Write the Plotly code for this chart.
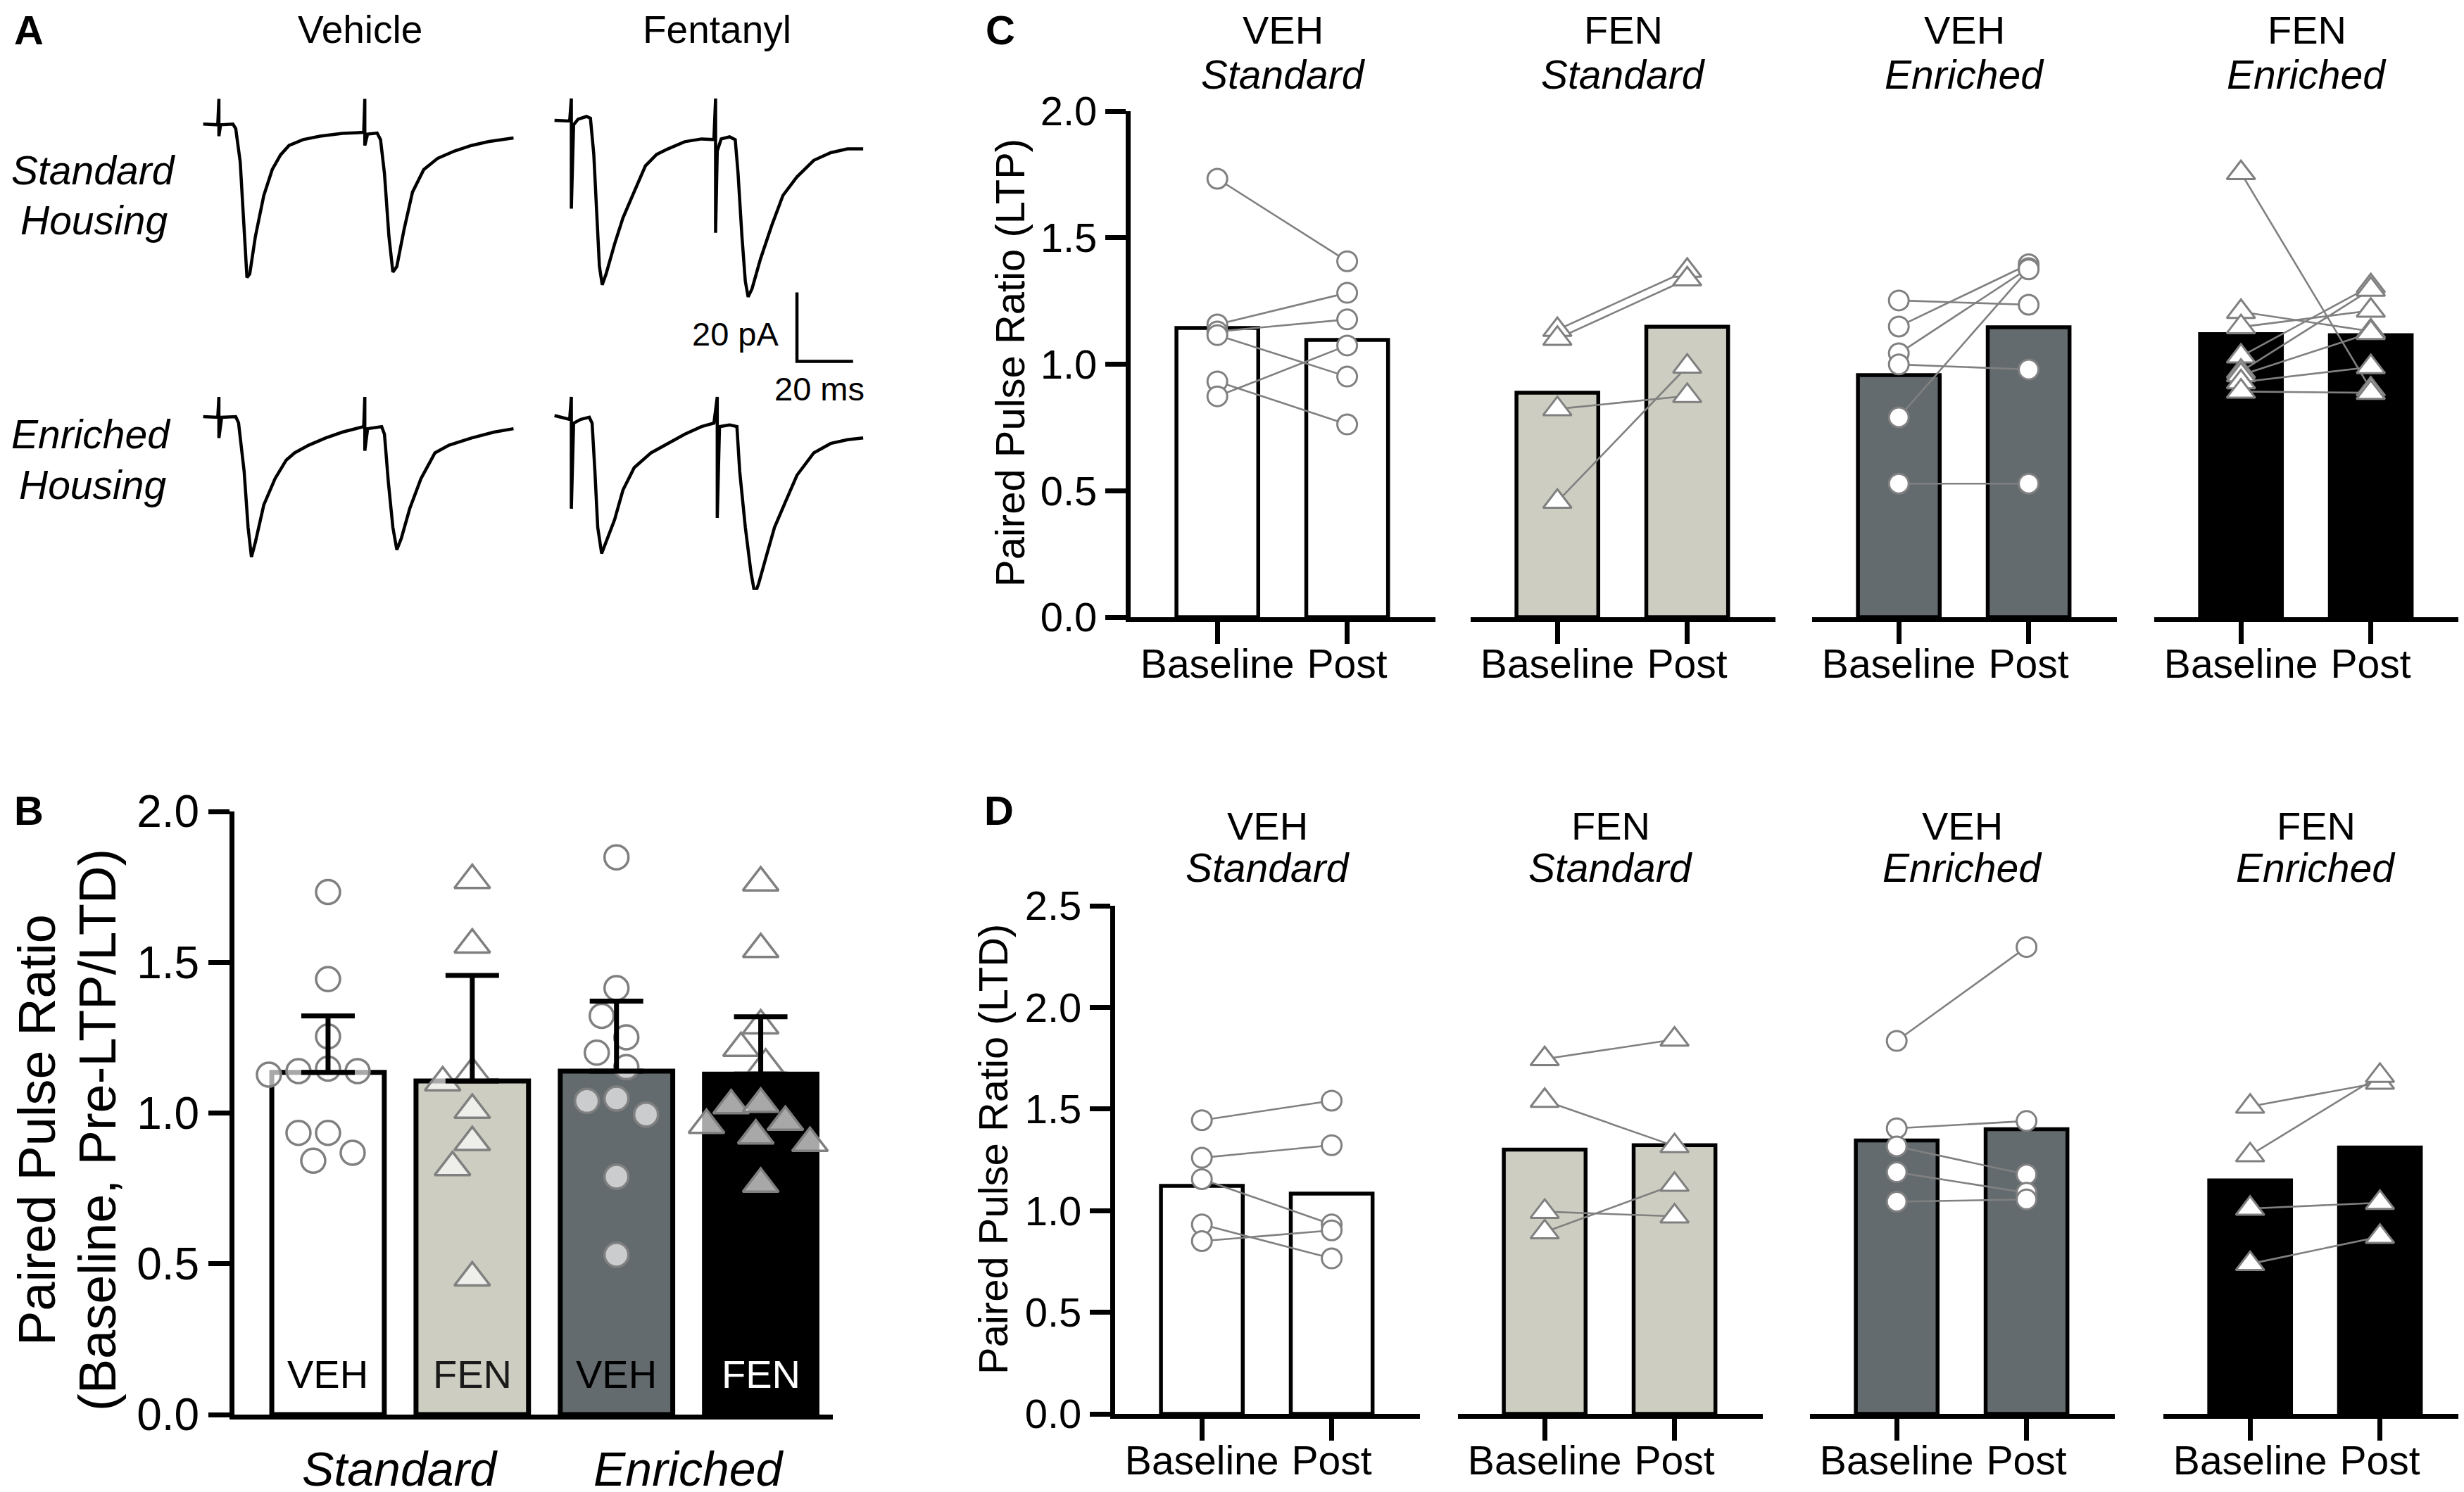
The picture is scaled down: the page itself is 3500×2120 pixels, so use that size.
import plotly.graph_objects as go

W, H = 3500, 2120
FONT = "Liberation Sans, Arial, Helvetica, sans-serif"
GRAY = "#808080"

# ---------------- Panel A : example EPSC traces (time in ms, current in pA) ----------------
veh_std_t = [0, 5.2, 5.6, 5.6, 6.2, 10.6, 11.6, 13.2, 14.6, 15.6, 16.6, 18.6, 21.6, 24.6, 27.6, 30.6, 35.6,
             41.6, 49.6, 57.2, 57.6, 57.6, 58.6, 62.0, 63.2, 64.6, 66.2, 67.6, 69.0, 71.6, 74.6, 78.6, 83.6,
             89.6, 95.6, 101.6, 110.6]
veh_std_i = [0, -0.2, 7.3, -3.5, -0.2, 0, -1.3, -11.0, -30.5, -44.5, -43.4, -32.6, -20.7, -13.2, -8.9, -6.2,
             -4.5, -3.5, -2.7, -2.4, 7.3, -6.2, -2.9, -2.6, -4.5, -14.3, -32.6, -42.9, -41.3, -30.5, -19.7,
             -13.2, -9.9, -7.8, -6.2, -5.1, -4.0]
fen_std_t = [0, 5.4, 6.0, 6.0, 6.8, 8.4, 11.4, 12.8, 14.0, 15.0, 16.0, 17.0, 18.4, 21.4, 24.4, 28.4, 32.4,
             36.4, 40.4, 46.4, 52.4, 56.8, 57.4, 57.4, 58.0, 59.4, 62.4, 64.4, 65.4, 66.8, 68.0, 69.0, 70.4,
             73.4, 77.4, 81.4, 86.4, 92.4, 98.4, 104.4, 110.0]
fen_std_i = [0, -0.2, 6.3, -25.6, -1.3, 0.3, 1.1, 0.6, -9.9, -26.1, -42.3, -47.7, -44.5, -35.9, -28.3, -20.7,
             -13.2, -9.9, -8.3, -6.2, -5.4, -5.6, 6.3, -32.6, -8.9, -5.4, -4.8, -5.6, -15.3, -33.7, -46.7,
             -51.2, -48.8, -40.2, -30.5, -21.8, -16.4, -11.6, -9.4, -8.3, -8.3]
veh_enr_t = [0, 5.2, 5.6, 5.6, 6.6, 11.6, 12.6, 14.6, 16.0, 17.2, 18.6, 21.6, 25.6, 29.6, 32.6, 37.6, 43.6,
             49.6, 57.2, 57.6, 57.6, 58.6, 63.6, 64.6, 66.0, 67.6, 69.0, 70.6, 73.6, 77.6, 82.6, 87.6, 95.6,
             103.6, 110.6]
veh_enr_i = [0, -0.2, 5.7, -6.2, -0.2, 0, -1.8, -15.9, -32.1, -40.7, -36.4, -25.6, -18.0, -12.6, -10.5, -8.3,
             -6.2, -4.5, -2.9, 5.7, -9.9, -3.5, -2.9, -5.1, -19.1, -32.1, -38.6, -35.3, -26.7, -18.0, -10.5,
             -8.3, -6.2, -4.5, -3.5]
fen_enr_t = [0, 5.4, 6.0, 6.0, 6.8, 9.4, 12.4, 13.4, 14.4, 15.4, 16.8, 18.4, 21.4, 24.4, 28.4, 34.4, 40.4,
             46.4, 52.4, 56.8, 58.0, 58.0, 58.8, 62.4, 65.0, 66.0, 68.0, 70.0, 71.4, 72.8, 75.4, 78.4, 82.4,
             86.4, 92.4, 98.4, 104.4, 110.0]
fen_enr_i = [0, -1.1, 5.4, -27.0, -2.2, -1.1, -0.5, -2.2, -16.2, -32.4, -40.0, -36.7, -30.2, -21.6, -15.1,
             -10.8, -8.1, -5.4, -3.2, -2.2, 5.4, -29.7, -3.2, -2.7, -3.2, -16.2, -32.4, -45.4, -51.8, -48.6,
             -41.0, -32.4, -24.8, -17.3, -10.8, -8.1, -7.0, -6.5]
scale_ms = 20
scale_pA = 20

# ---------------- Panel B ----------------
b_groups = ["VEH", "FEN", "VEH", "FEN"]
b_housing = ["Standard", "Enriched"]
b_means = [1.135, 1.106, 1.139, 1.129]
b_err_up = [0.187, 0.350, 0.232, 0.190]
b_veh_std = [1.733, 1.444, 1.254, 1.139, 1.139, 1.127, 1.147, 0.934, 0.934, 0.868, 0.842]
b_fen_std = [1.772, 1.558, 1.101, 1.132, 1.010, 0.903, 0.820, 0.454]
b_veh_enr = [1.848, 1.414, 1.322, 1.251, 1.200, 1.152, 1.048, 1.040, 0.995, 0.789, 0.530]
b_fen_enr = [1.764, 1.543, 1.290, 1.215, 1.160, 1.025, 1.030, 0.970, 0.960, 0.925, 0.900, 0.765]

# ---------------- Panels C (LTP) and D (LTD) ----------------
pair_ticks = ["Baseline", "Post"]
grp_drug = ["VEH", "FEN", "VEH", "FEN"]
grp_house = ["Standard", "Standard", "Enriched", "Enriched"]

c_bar_base = [1.143, 0.887, 0.957, 1.119]
c_bar_post = [1.096, 1.148, 1.146, 1.115]
c_veh_std_base = [1.733, 1.157, 1.129, 1.115, 0.932, 0.873]
c_veh_std_post = [1.407, 1.282, 1.177, 0.951, 0.762, 1.074]
c_fen_std_base = [1.136, 1.101, 0.823, 0.457]
c_fen_std_post = [1.370, 1.336, 0.875, 0.991]
c_veh_enr_base = [1.252, 1.149, 1.043, 0.999, 0.790, 0.528]
c_veh_enr_post = [1.235, 1.395, 1.380, 0.979, 1.375, 0.528]
c_fen_enr_base = [1.756, 1.207, 1.147, 1.031, 0.971, 0.957, 0.929, 0.892]
c_fen_enr_post = [0.901, 1.130, 1.212, 1.309, 1.295, 1.124, 0.989, 0.887]

d_bar_base = [1.122, 1.300, 1.345, 1.149]
d_bar_post = [1.084, 1.322, 1.401, 1.311]
d_veh_std_base = [1.445, 1.260, 1.155, 0.932, 0.850]
d_veh_std_post = [1.541, 1.322, 0.932, 0.765, 0.903]
d_fen_std_base = [1.746, 1.541, 0.995, 0.894]
d_fen_std_post = [1.842, 1.318, 0.972, 1.128]
d_veh_enr_base = [1.835, 1.405, 1.316, 1.189, 1.044]
d_veh_enr_post = [2.297, 1.441, 1.178, 1.088, 1.055]
d_fen_enr_base = [1.512, 1.273, 1.010, 0.738]
d_fen_enr_post = [1.630, 1.664, 1.039, 0.872]

# ---------------- styles ----------------
BAR_COLORS = ["#ffffff", "#cdcec1", "#636b6f", "#000000"]
SYMBOLS = ["circle", "triangle-up", "circle", "triangle-up"]


def px(x):
    return x / W


def py(y):
    return 1 - y / H


def beeswarm(vals, xscale, yscale, d):
    order = sorted(range(len(vals)), key=lambda k: -vals[k])
    placed = []
    offs = [0.0] * len(vals)
    step = d / 6.0
    cands = [0.0]
    for k in range(1, 80):
        cands += [-k * step, k * step]
    for k in order:
        yp = vals[k] * yscale
        chosen = 0.0
        for c in cands:
            if all((c - a) ** 2 + (yp - b) ** 2 >= d * d for a, b in placed):
                chosen = c
                break
        placed.append((chosen, yp))
        offs[k] = chosen / xscale
    return offs


fig = go.Figure()
layout = dict(width=W, height=H, margin=dict(l=0, r=0, t=0, b=0, pad=0, autoexpand=False),
              paper_bgcolor="white", plot_bgcolor="rgba(0,0,0,0)", showlegend=False,
              font=dict(family=FONT, color="black"))
ann = []
TOP = 34

# ---------- Panel A ----------
layout["xaxis"] = dict(domain=[0, 1250 / W], range=[-70.4, 243.2], visible=False, anchor="y", automargin=False)
layout["yaxis"] = dict(domain=[py(830), 1], range=[-135.0, 34.34], visible=False, anchor="x", automargin=False)
col_off = [0, 125.2]
row_off = [0, -84.8]
traces_a = [(veh_std_t, veh_std_i, 0, 0, 0), (fen_std_t, fen_std_i, 1, 0, 1.1),
            (veh_enr_t, veh_enr_i, 0, 1, 0), (fen_enr_t, fen_enr_i, 1, 1, 0.3)]
for tt, ii, c, r, extra in traces_a:
    fig.add_trace(go.Scatter(x=[t + col_off[c] for t in tt], y=[v + row_off[r] + extra for v in ii],
                             mode="lines", line=dict(color="black", width=4.5), xaxis="x", yaxis="y",
                             hoverinfo="skip"))
sb_x, sb_y = 211.6, -48.8
fig.add_trace(go.Scatter(x=[sb_x, sb_x, sb_x + scale_ms], y=[sb_y, sb_y - scale_pA, sb_y - scale_pA],
                         mode="lines", line=dict(color="black", width=4.5), xaxis="x", yaxis="y"))
ann.append(dict(x=sb_x - 6, y=sb_y - scale_pA / 2 - 2, xref="x", yref="y", text=f"{scale_pA} pA",
                showarrow=False, xanchor="right", yanchor="middle", font=dict(size=47)))
ann.append(dict(x=sb_x + scale_ms / 2 - 2, y=sb_y - scale_pA - 8, xref="x", yref="y", text=f"{scale_ms} ms",
                showarrow=False, xanchor="center", yanchor="middle", font=dict(size=47)))
for txt, x in [("Vehicle", 503), ("Fentanyl", 1010)]:
    ann.append(dict(x=px(x), y=py(TOP), xref="paper", yref="paper", text=txt, showarrow=False,
                    xanchor="center", yanchor="middle", font=dict(size=55)))
for txt, x, y in [("Standard", 125, 234), ("Housing", 125, 305), ("Enriched", 121, 609), ("Housing", 123, 681)]:
    ann.append(dict(x=px(x), y=py(y), xref="paper", yref="paper", text=f"<i>{txt}</i>", showarrow=False,
                    xanchor="center", yanchor="middle", font=dict(size=57)))

# ---------- Panel B ----------
layout["xaxis2"] = dict(domain=[px(325), px(1175)], range=[-0.649, 3.5], anchor="y2", showline=True,
                        linecolor="black", linewidth=7, ticks="", showticklabels=False, showgrid=False,
                        zeroline=False, automargin=False)
layout["yaxis2"] = dict(domain=[py(2002), py(1145)], range=[0, 2], anchor="x2", showline=True,
                        linecolor="black", linewidth=7, ticks="outside", ticklen=30, tickwidth=7,
                        tickcolor="black", tickvals=[0, 0.5, 1, 1.5, 2],
                        ticktext=["0.0", "0.5", "1.0", "1.5", "2.0"], tickfont=dict(size=64),
                        showgrid=False, zeroline=False, automargin=False)
fig.add_trace(go.Bar(x=[0, 1, 2, 3], y=b_means, width=0.78, xaxis="x2", yaxis="y2",
                     marker=dict(color=BAR_COLORS, line=dict(color="black", width=7))))
b_sets = [b_veh_std, b_fen_std, b_veh_enr, b_fen_enr]
xs_b = 850 / 4.149
ys_b = 857 / 2.0
for g, vals in enumerate(b_sets):
    offs = beeswarm(vals, xs_b, ys_b, 42)
    tri = SYMBOLS[g] == "triangle-up"
    fig.add_trace(go.Scatter(x=[g + o for o in offs], y=vals, mode="markers", xaxis="x2", yaxis="y2",
                             marker=dict(symbol=SYMBOLS[g], size=44 if tri else 34,
                                         color="rgba(255,255,255,0.66)",
                                         line=dict(color=GRAY, width=3.5))))
fig.add_trace(go.Scatter(x=[0, 1, 2, 3], y=b_means, mode="markers", xaxis="x2", yaxis="y2",
                         marker=dict(size=1, color="rgba(0,0,0,0)"),
                         error_y=dict(type="data", symmetric=False, array=b_err_up, arrayminus=[0, 0, 0, 0],
                                      color="black", thickness=7, width=38)))
lab_col = ["black", "#1a1a1a", "black", "white"]
for g, name in enumerate(b_groups):
    ann.append(dict(x=g, y=0.055, xref="x2", yref="y2", text=name, showarrow=False, xanchor="center",
                    yanchor="bottom", font=dict(size=56, color=lab_col[g])))
for k, name in enumerate(b_housing):
    ann.append(dict(x=0.5 + 2 * k, y=py(2079), xref="x2", yref="paper", text=f"<i>{name}</i>",
                    showarrow=False, xanchor="center", yanchor="middle", font=dict(size=68)))
for txt, x in [("Paired Pulse Ratio", 44), ("(Baseline, Pre-LTP/LTD)", 130)]:
    ann.append(dict(x=px(x), y=py(1598), xref="paper", yref="paper", text=txt, textangle=-90,
                    showarrow=False, xanchor="center", yanchor="middle", font=dict(size=74)))

# ---------- Panels C and D ----------
rows = [
    dict(ystart=150, yend=869, ymax=2.0, xstarts=[1598, 2081, 2566, 3052],
         bars_b=c_bar_base, bars_p=c_bar_post,
         base=[c_veh_std_base, c_fen_std_base, c_veh_enr_base, c_fen_enr_base],
         post=[c_veh_std_post, c_fen_std_post, c_veh_enr_post, c_fen_enr_post],
         title="Paired Pulse Ratio (LTP)", tx=1426, ty=508, t1=TOP, t2=98, letter="C", lx=1413, ly=TOP),
    dict(ystart=1279, yend=2001, ymax=2.5, xstarts=[1576, 2063, 2563, 3065],
         bars_b=d_bar_base, bars_p=d_bar_post,
         base=[d_veh_std_base, d_fen_std_base, d_veh_enr_base, d_fen_enr_base],
         post=[d_veh_std_post, d_fen_std_post, d_veh_enr_post, d_fen_enr_post],
         title="Paired Pulse Ratio (LTD)", tx=1402, ty=1625, t1=1165, t2=1225, letter="D", lx=1411, ly=1143),
]
GW = 433
ax = 3
for r, row in enumerate(rows):
    tv = [k * 0.5 for k in range(int(row["ymax"] / 0.5) + 1)]
    for g in range(4):
        xn, yn = f"xaxis{ax}", f"yaxis{ax}"
        xr, yr = f"x{ax}", f"y{ax}"
        x0 = row["xstarts"][g]
        layout[xn] = dict(domain=[px(x0), px(x0 + GW)], range=[-0.668, 1.68], anchor=yr, showline=True,
                          linecolor="black", linewidth=7, ticks="outside", ticklen=31, tickwidth=6.5,
                          tickcolor="black", tickvals=[0, 1], ticktext=pair_ticks, tickfont=dict(size=57),
                          ticklabelstandoff=-20, showgrid=False, zeroline=False, automargin=False)
        ydict = dict(domain=[py(row["yend"]), py(row["ystart"])], range=[0, row["ymax"]], anchor=xr,
                     showgrid=False, zeroline=False, automargin=False)
        if g == 0:
            ydict.update(showline=True, linecolor="black", linewidth=7, ticks="outside", ticklen=29,
                         tickwidth=6.5, tickcolor="black", tickvals=tv, ticktext=[f"{v:.1f}" for v in tv],
                         tickfont=dict(size=58))
        else:
            ydict.update(visible=False)
        layout[yn] = ydict
        fig.add_trace(go.Bar(x=[0, 1], y=[row["bars_b"][g], row["bars_p"][g]], width=0.63, xaxis=xr,
                             yaxis=yr, marker=dict(color=BAR_COLORS[g], line=dict(color="black", width=5.5))))
        bl, pl = row["base"][g], row["post"][g]
        lx, ly = [], []
        for b, p in zip(bl, pl):
            lx += [0, 1, None]
            ly += [b, p, None]
        fig.add_trace(go.Scatter(x=lx, y=ly, mode="lines", line=dict(color=GRAY, width=2.6),
                                 xaxis=xr, yaxis=yr))
        tri = SYMBOLS[g] == "triangle-up"
        fig.add_trace(go.Scatter(x=[0] * len(bl) + [1] * len(pl), y=bl + pl, mode="markers", xaxis=xr,
                                 yaxis=yr, marker=dict(symbol=SYMBOLS[g], size=35 if tri else 28,
                                                       color="white", line=dict(color=GRAY, width=3))))
        cx = px(x0 + GW / 2)
        ann.append(dict(x=cx, y=py(row["t1"]), xref="paper", yref="paper", text=grp_drug[g], showarrow=False,
                        xanchor="center", yanchor="middle", font=dict(size=56)))
        ann.append(dict(x=cx, y=py(row["t2"]), xref="paper", yref="paper", text=f"<i>{grp_house[g]}</i>",
                        showarrow=False, xanchor="center", yanchor="middle", font=dict(size=57)))
        ax += 1
    ann.append(dict(x=px(row["tx"]), y=py(row["ty"]), xref="paper", yref="paper", text=row["title"],
                    textangle=-90, showarrow=False, xanchor="center", yanchor="middle", font=dict(size=58)))
    ann.append(dict(x=px(row["lx"]), y=py(row["ly"]), xref="paper", yref="paper", text=f"<b>{row['letter']}</b>",
                    showarrow=False, xanchor="center", yanchor="middle", font=dict(size=58)))

for letter, x, y in [("A", 33, TOP), ("B", 33, 1143)]:
    ann.append(dict(x=px(x), y=py(y), xref="paper", yref="paper", text=f"<b>{letter}</b>", showarrow=False,
                    xanchor="center", yanchor="middle", font=dict(size=58)))

layout["annotations"] = ann
fig.update_layout(**layout)
fig.write_html("out.html")
